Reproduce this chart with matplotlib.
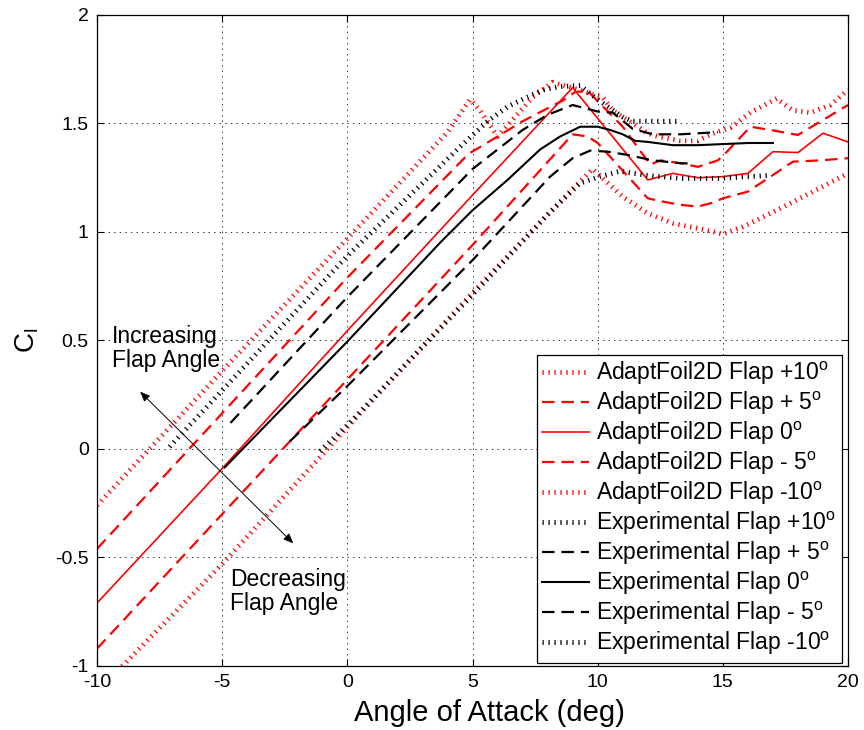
import matplotlib

matplotlib.use("Agg")
import matplotlib.pyplot as plt

plt.rcParams["font.family"] = ["Liberation Sans", "DejaVu Sans"]
plt.rcParams["mathtext.fontset"] = "custom"
plt.rcParams["mathtext.rm"] = "Liberation Sans"
plt.rcParams["mathtext.it"] = "Liberation Sans:italic"
plt.rcParams["axes.unicode_minus"] = False
plt.rcParams["lines.scale_dashes"] = False

# --- AdaptFoil2D predictions (red) ---
af_p10_aoa = [-10, -5, 0, 4, 4.9, 5.3, 6.0, 6.7, 7.4, 8.2, 9.4, 10.2, 10.6, 11.4, 12.0,
              12.4, 13.3, 14.0, 14.6, 15.3, 16.1, 17.15, 17.8, 18.5, 19.3, 20]
af_p10_cl = [-0.26, 0.36, 0.97, 1.46, 1.61, 1.56, 1.44, 1.53, 1.62, 1.69, 1.65, 1.62, 1.56,
             1.50, 1.455, 1.44, 1.42, 1.42, 1.455, 1.48, 1.55, 1.615, 1.56, 1.55, 1.585, 1.655]

af_p5_aoa = [-10, -5, 0, 4.84, 6, 7, 8, 8.6, 9.1, 9.6, 11, 12.1, 12.5, 13.3, 14, 14.8, 15,
             16.1, 16.9, 18, 19, 20]
af_p5_cl = [-0.46, 0.165, 0.79, 1.36, 1.44, 1.51, 1.57, 1.605, 1.645, 1.65, 1.485, 1.31,
            1.33, 1.317, 1.30, 1.33, 1.35, 1.485, 1.47, 1.447, 1.516, 1.585]

af_0_aoa = [-10, -5, 0, 5, 9, 12, 13, 14, 15, 16, 17, 18, 19, 20]
af_0_cl = [-0.71, -0.09, 0.545, 1.17, 1.665, 1.24, 1.27, 1.25, 1.255, 1.27, 1.37, 1.366,
           1.455, 1.415]

af_m5_aoa = [-10, -5, 0, 5, 9, 9.6, 10, 12, 12.6, 13.3, 14, 14.6, 15, 16, 16.9, 17.8,
             18.9, 20]
af_m5_cl = [-0.92, -0.30, 0.32, 0.94, 1.45, 1.44, 1.41, 1.155, 1.14, 1.125, 1.117, 1.135,
            1.155, 1.186, 1.255, 1.324, 1.33, 1.34]

af_m10_aoa = [-10, -5, 0, 5, 9, 9.8, 11, 12, 13, 14, 15, 15.8, 17.15, 18.5, 20]
af_m10_cl = [-1.12, -0.53, 0.10, 0.72, 1.20, 1.29, 1.163, 1.086, 1.04, 1.017, 0.99, 1.024,
             1.10, 1.18, 1.27]

# --- Experimental data (black) ---
ex_p10_aoa = [-7.1, -5, 0, 4.57, 5.6, 6.4, 7.1, 7.8, 8.5, 9.3, 10, 11, 11.4, 12, 13.3]
ex_p10_cl = [0.01, 0.27, 0.89, 1.40, 1.51, 1.577, 1.617, 1.654, 1.67, 1.675, 1.61, 1.53,
             1.51, 1.51, 1.51]

ex_p5_aoa = [-4.67, 0, 5, 7, 8, 9, 10, 10.6, 11.4, 12.2, 13.3, 14.8]
ex_p5_cl = [0.12, 0.70, 1.29, 1.47, 1.54, 1.585, 1.555, 1.55, 1.475, 1.45, 1.45, 1.46]

ex_0_aoa = [-4.9, 0, 3.7, 5, 6.4, 7.7, 8.5, 9.3, 10, 10.5, 11, 11.5, 12, 13, 14, 15, 16, 17]
ex_0_cl = [-0.085, 0.495, 0.95, 1.10, 1.24, 1.38, 1.44, 1.485, 1.485, 1.47, 1.45, 1.42,
           1.415, 1.40, 1.40, 1.405, 1.41, 1.41]

ex_m5_aoa = [-2.3, 0, 5, 8.1, 9, 9.7, 10.4, 11.2, 12.2, 13.3, 13.8]
ex_m5_cl = [0.035, 0.29, 0.87, 1.255, 1.34, 1.375, 1.37, 1.355, 1.33, 1.317, 1.315]

ex_m10_aoa = [-1.1, 0, 5, 8, 9.3, 10.1, 10.9, 12, 13.3, 14.9, 16, 16.8]
ex_m10_cl = [-0.01, 0.11, 0.71, 1.08, 1.225, 1.255, 1.28, 1.26, 1.247, 1.247, 1.255, 1.26]

DEG = r"$^\mathregular{o}$"
labels = [
    "AdaptFoil2D Flap +10" + DEG,
    "AdaptFoil2D Flap + 5" + DEG,
    "AdaptFoil2D Flap 0" + DEG,
    "AdaptFoil2D Flap - 5" + DEG,
    "AdaptFoil2D Flap -10" + DEG,
    "Experimental Flap +10" + DEG,
    "Experimental Flap + 5" + DEG,
    "Experimental Flap 0" + DEG,
    "Experimental Flap - 5" + DEG,
    "Experimental Flap -10" + DEG,
]

DOT = (0, (0.9, 3.4))
DASH = (0, (9, 5))

series = [
    (af_p10_aoa, af_p10_cl, "red", DOT, 3.5),
    (af_p5_aoa, af_p5_cl, "red", DASH, 1.6),
    (af_0_aoa, af_0_cl, "red", "-", 1.2),
    (af_m5_aoa, af_m5_cl, "red", DASH, 1.6),
    (af_m10_aoa, af_m10_cl, "red", DOT, 3.5),
    (ex_p10_aoa, ex_p10_cl, "black", DOT, 3.5),
    (ex_p5_aoa, ex_p5_cl, "black", DASH, 1.6),
    (ex_0_aoa, ex_0_cl, "black", "-", 1.5),
    (ex_m5_aoa, ex_m5_cl, "black", DASH, 1.6),
    (ex_m10_aoa, ex_m10_cl, "black", DOT, 3.5),
]

fig = plt.figure(figsize=(8.64, 7.3), dpi=100)
ax = fig.add_axes([0.1123, 0.0877, 0.8692, 0.8918])

for (x, y, color, ls, lw), label in zip(series, labels):
    ax.plot(x, y, color=color, linestyle=ls, linewidth=lw, label=label)

ax.set_xlim(-10, 20)
ax.set_ylim(-1, 2)
ax.set_xticks([-10, -5, 0, 5, 10, 15, 20])
ax.set_yticks([-1, -0.5, 0, 0.5, 1, 1.5, 2])
ax.set_yticklabels(["-1", "-0.5", "0", "0.5", "1", "1.5", "2"])
ax.tick_params(direction="in", top=True, right=True, length=5, width=0.8,
               labelsize=14, pad=6)
ax.grid(True, color="0.2", linestyle=(0, (1, 3)), linewidth=0.7)
for sp in ax.spines.values():
    sp.set_linewidth(0.9)

ax.set_xlabel("Angle of Attack (deg)", fontsize=21)
ax.xaxis.set_label_coords(0.523, -0.05)
ax.set_ylabel(r"C$_\mathregular{l}$", fontsize=20, labelpad=10)

# flap direction arrow and notes
ax.annotate("", xy=(-8.28, 0.264), xytext=(-2.16, -0.435),
            arrowprops=dict(arrowstyle="<|-|>,head_length=0.6,head_width=0.25",
                            color="black", lw=0.7, shrinkA=0, shrinkB=0))
ax.text(-9.40, 0.572, "Increasing\nFlap Angle", fontsize=16.5, ha="left", va="top",
        linespacing=1.05)
ax.text(-4.69, -0.55, "Decreasing\nFlap Angle", fontsize=16.5, ha="left", va="top",
        linespacing=1.05)

leg = ax.legend(loc="lower right", bbox_to_anchor=(0.992, 0.005), borderaxespad=0,
                fontsize=16.5, handlelength=2.05, handletextpad=0.3, labelspacing=0.12,
                borderpad=0.25, fancybox=False, framealpha=1, edgecolor="black")
leg.get_frame().set_linewidth(0.9)

fig.savefig("out.png", dpi=100)
